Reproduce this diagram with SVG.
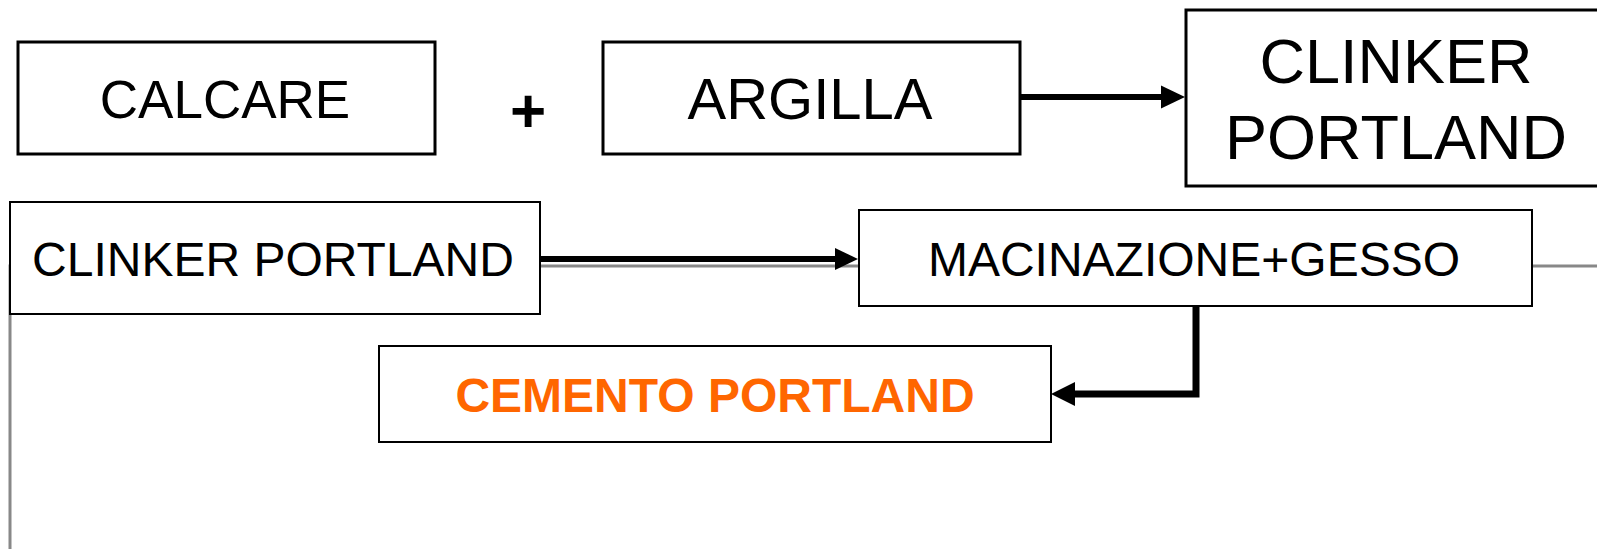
<svg xmlns="http://www.w3.org/2000/svg" width="1597" height="549" viewBox="0 0 1597 549">
<style>
.box{fill:#fff;stroke:#000}
.b3{stroke-width:3}
.b2{stroke-width:2}
.t{font-family:"Liberation Sans",Arial,sans-serif;fill:#000;text-anchor:middle}
.ln{fill:none;stroke:#000}
.hd{fill:#000}
.gray{fill:none;stroke:#888;stroke-width:3}
</style>
<rect width="1597" height="549" fill="#fff"/>
<g id="connectors">
<path class="gray" d="M10,549 V266 H1597"/>
<line class="ln" x1="1020" y1="97" x2="1164" y2="97" stroke-width="6"/>
<polygon class="hd" points="1161,85.5 1185,97 1161,108.5"/>
<line class="ln" x1="540" y1="259" x2="838" y2="259" stroke-width="6"/>
<polygon class="hd" points="835,248 858,259 835,270"/>
<path class="ln" d="M1196,306 V394 H1072" stroke-width="7"/>
<polygon class="hd" points="1075,382 1051,394 1075,406"/>
</g>
<g id="calcare">
<rect class="box b3" x="18" y="42" width="417" height="112"/>
<text class="t" x="225" y="118" font-size="53">CALCARE</text>
</g>
<g id="plus">
<text class="t" x="528" y="132" font-size="62" font-weight="bold">+</text>
</g>
<g id="argilla">
<rect class="box b3" x="603" y="42" width="417" height="112"/>
<text class="t" x="810" y="119" font-size="58">ARGILLA</text>
</g>
<g id="clinker-top">
<rect class="box b3" x="1186" y="10" width="430" height="176"/>
<text class="t" x="1396" y="83" font-size="63">CLINKER</text>
<text class="t" x="1396" y="159" font-size="63">PORTLAND</text>
</g>
<g id="clinker-portland">
<rect class="box b2" x="10" y="202" width="530" height="112"/>
<text class="t" x="273" y="276" font-size="48">CLINKER PORTLAND</text>
</g>
<g id="macinazione">
<rect class="box b2" x="859" y="210" width="673" height="96"/>
<text class="t" x="1194" y="276" font-size="48">MACINAZIONE+GESSO</text>
</g>
<g id="cemento">
<rect class="box b2" x="379" y="346" width="672" height="96"/>
<text class="t" x="715" y="412" font-size="48" font-weight="bold" style="fill:#FF6600">CEMENTO PORTLAND</text>
</g>
</svg>
